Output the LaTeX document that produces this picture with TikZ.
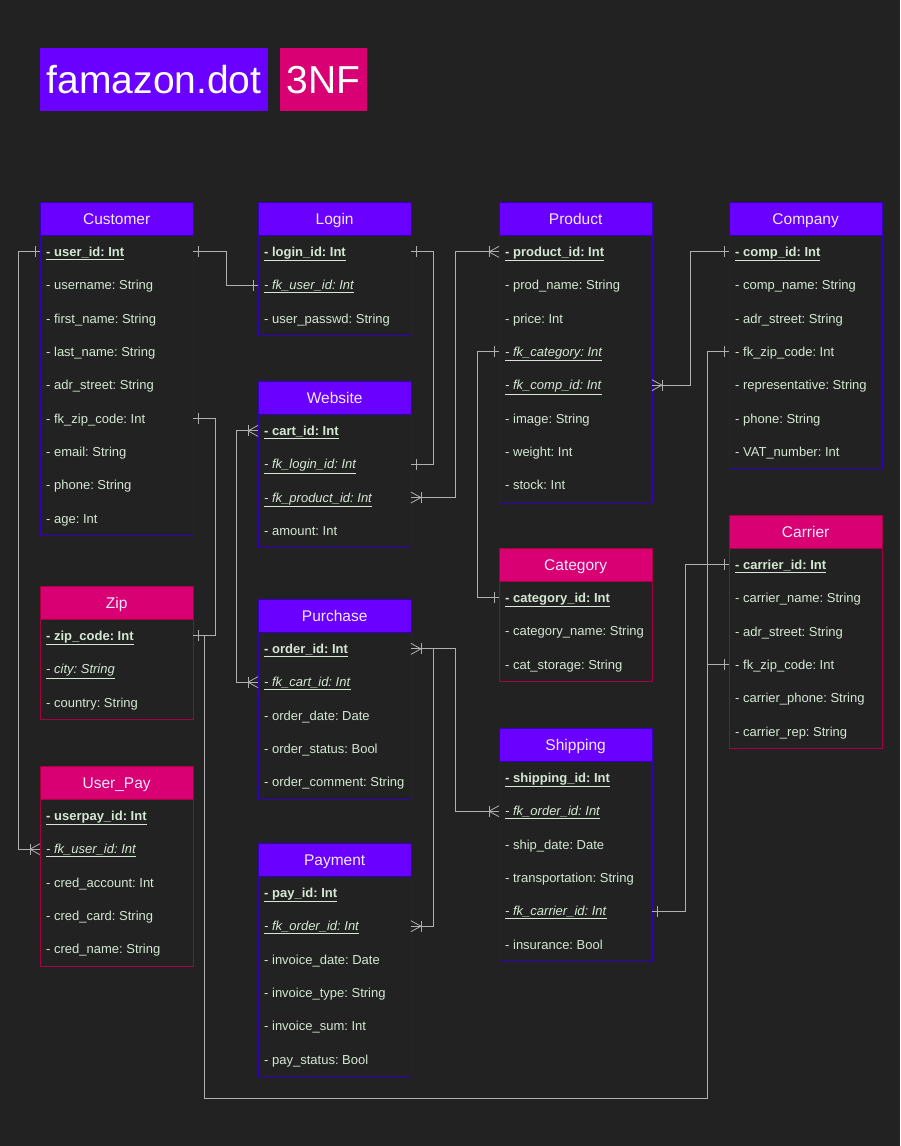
\documentclass[tikz,border=0pt]{standalone}
\usepackage{fontspec}
\setmainfont{Liberation Sans}
\usetikzlibrary{calc}
\frenchspacing

\definecolor{bg}{HTML}{222222}
\definecolor{violetfill}{HTML}{6A00FF}
\definecolor{violetline}{HTML}{3300BB}
\definecolor{crimsonfill}{HTML}{D80073}
\definecolor{crimsonline}{HTML}{A50040}
\definecolor{headtext}{HTML}{F2EAFF}
\definecolor{attrtext}{HTML}{D5E8D4}
\definecolor{wire}{HTML}{B0B0B0}

% key / foreign-key attribute formatting
\newcommand\pk[1]{\underline{\textbf{- #1}}}
\newcommand\fk[1]{\underline{\textit{- #1}}}

% entity table: id, x, y, colour scheme, title, attribute rows
\newcommand\ertable[6]{%
  \node[hdr, #4hdr] (#1) at (#2,#3) {#5};
  \foreach \r [count=\i] in {#6} {
    \node[attr] (#1-\i) at (#2, #3+33+33.33*\i-33.33) {\makebox[140.5pt][l]{\r}};
    \xdef\lastrow{\i}
  }
  \draw[#4line] (#1.south west) rectangle (#1-\lastrow.south east);
}

% relationship end markers on a table edge (#2 = 1 east side, -1 west side)
\newcommand\onebar[2]{\draw[conn] ([xshift=#2*5pt]#1) ++(0,-5.5) -- ++(0,11);}
\newcommand\crowfoot[2]{%
  \draw[conn] ([xshift=#2*10pt]#1) ++(0,-5.5) -- ++(0,11);
  \draw[conn] ([xshift=#2*10pt]#1) -- ([yshift=5.5pt]#1);
  \draw[conn] ([xshift=#2*10pt]#1) -- ([yshift=-5.5pt]#1);
}

\tikzset{
  hdr/.style={rectangle, anchor=north west, minimum width=152.5pt, minimum height=33pt,
    inner sep=0pt, text height=12.5pt, text depth=2pt, text=headtext,
    font=\fontsize{15.5}{18}\selectfont, line width=0.8pt},
  violethdr/.style={fill=violetfill, draw=violetline},
  crimsonhdr/.style={fill=crimsonfill, draw=crimsonline},
  violetline/.style={draw=violetline, line width=0.8pt},
  crimsonline/.style={draw=crimsonline, line width=0.8pt},
  attr/.style={rectangle, anchor=north west, inner xsep=6pt, inner ysep=0pt,
    minimum width=152.5pt, minimum height=33.33pt, text height=11pt, text depth=2pt,
    text=attrtext, font=\fontsize{13}{15}\selectfont},
  conn/.style={draw=wire, line width=0.8pt},
  titlebox/.style={rectangle, anchor=north west, minimum height=63pt, inner sep=0pt,
    text=white, font=\fontsize{39}{44}\selectfont},
}

\begin{document}
\begin{tikzpicture}[x=1pt,y=-1pt]
\fill[bg] (0,0) rectangle (900,1146);
\useasboundingbox (0,0) rectangle (900,1146);

% heading
\node[titlebox, fill=violetfill, minimum width=228pt] (title) at (40,48) {famazon.dot};
\node[titlebox, fill=crimsonfill, minimum width=87pt] (nf) at (280,48) {3NF};

% entities
\ertable{cust}{40}{202}{violet}{Customer}{
  \pk{user\_id: Int}, - username: String, - first\_name: String, - last\_name: String,
  - adr\_street: String, - fk\_zip\_code: Int, - email: String, - phone: String, - age: Int}
\ertable{login}{258}{202}{violet}{Login}{
  \pk{login\_id: Int}, \fk{fk\_user\_id: Int}, - user\_passwd: String}
\ertable{prod}{499}{202}{violet}{Product}{
  \pk{product\_id: Int}, - prod\_name: String, - price: Int, \fk{fk\_category: Int},
  \fk{fk\_comp\_id: Int}, - image: String, - weight: Int, - stock: Int}
\ertable{comp}{729}{202}{violet}{Company}{
  \pk{comp\_id: Int}, - comp\_name: String, - adr\_street: String, - fk\_zip\_code: Int,
  - representative: String, - phone: String, - VAT\_number: Int}
\ertable{web}{258}{381}{violet}{Website}{
  \pk{cart\_id: Int}, \fk{fk\_login\_id: Int}, \fk{fk\_product\_id: Int}, - amount: Int}
\ertable{zip}{40}{586}{crimson}{Zip}{
  \pk{zip\_code: Int}, \fk{city: String}, - country: String}
\ertable{cat}{499}{548}{crimson}{Category}{
  \pk{category\_id: Int}, - category\_name: String, - cat\_storage: String}
\ertable{carr}{729}{515}{crimson}{Carrier}{
  \pk{carrier\_id: Int}, - carrier\_name: String, - adr\_street: String, - fk\_zip\_code: Int,
  - carrier\_phone: String, - carrier\_rep: String}
\ertable{purch}{258}{599}{violet}{Purchase}{
  \pk{order\_id: Int}, \fk{fk\_cart\_id: Int}, - order\_date: Date, - order\_status: Bool,
  - order\_comment: String}
\ertable{upay}{40}{766}{crimson}{User\_Pay}{
  \pk{userpay\_id: Int}, \fk{fk\_user\_id: Int}, - cred\_account: Int, - cred\_card: String,
  - cred\_name: String}
\ertable{ship}{499}{728}{violet}{Shipping}{
  \pk{shipping\_id: Int}, \fk{fk\_order\_id: Int}, - ship\_date: Date, - transportation: String,
  \fk{fk\_carrier\_id: Int}, - insurance: Bool}
\ertable{pay}{258}{843}{violet}{Payment}{
  \pk{pay\_id: Int}, \fk{fk\_order\_id: Int}, - invoice\_date: Date, - invoice\_type: String,
  - invoice\_sum: Int, - pay\_status: Bool}

% relationships
\draw[conn] (cust-1.east) -- ++(33,0) |- (login-2.west);
\onebar{cust-1.east}{1} \onebar{login-2.west}{-1}

\draw[conn] (cust-1.west) -- ++(-22,0) |- (upay-2.west);
\onebar{cust-1.west}{-1} \crowfoot{upay-2.west}{-1}

\draw[conn] (login-1.east) -- ++(22,0) |- (web-2.east);
\onebar{login-1.east}{1} \onebar{web-2.east}{1}

\draw[conn] (prod-1.west) -- ++(-44,0) |- (web-3.east);
\crowfoot{prod-1.west}{-1} \crowfoot{web-3.east}{1}

\draw[conn] (comp-1.west) -- ++(-39,0) |- (prod-5.east);
\onebar{comp-1.west}{-1} \crowfoot{prod-5.east}{1}

\draw[conn] (prod-4.west) -- ++(-22,0) |- (cat-1.west);
\onebar{prod-4.west}{-1} \onebar{cat-1.west}{-1}

\draw[conn] (web-1.west) -- ++(-22,0) |- (purch-2.west);
\crowfoot{web-1.west}{-1} \crowfoot{purch-2.west}{-1}

\draw[conn] (cust-6.east) -- ++(22,0) |- (zip-1.east);
\onebar{cust-6.east}{1} \onebar{zip-1.east}{1}

\coordinate (zipbus) at (707,1098);
\draw[conn] (zip-1.east) -- ++(11,0) |- (zipbus) |- (comp-4.west);
\draw[conn] (carr-4.west) -- (carr-4.west -| zipbus);
\onebar{comp-4.west}{-1} \onebar{carr-4.west}{-1}

\draw[conn] (purch-1.east) -- ++(44,0) |- (ship-2.west);
\draw[conn] (purch-1.east) -- ++(22,0) |- (pay-2.east);
\crowfoot{purch-1.east}{1} \crowfoot{ship-2.west}{-1} \crowfoot{pay-2.east}{1}

\draw[conn] (carr-1.west) -- ++(-44,0) |- (ship-5.east);
\onebar{carr-1.west}{-1} \onebar{ship-5.east}{1}
\end{tikzpicture}
\end{document}
